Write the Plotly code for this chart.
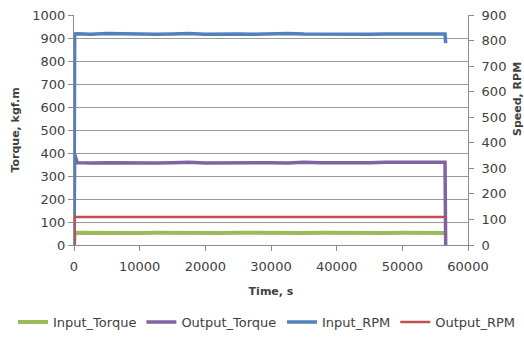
import plotly.graph_objects as go

# ---- data ----
time_s = [0, 100, 500, 2500, 5000, 7500, 10000, 12500, 15000, 17500, 20000,
          22500, 25000, 27500, 30000, 32500, 35000, 37500, 40000, 42500,
          45000, 47500, 50000, 52500, 55000, 56500, 56600]

input_torque = [0, 52, 53, 52, 53, 52, 52, 53, 52, 53, 52, 52, 53, 52, 53,
                52, 52, 53, 52, 53, 52, 52, 53, 52, 53, 52, None]
output_torque = [0, 395, 358, 356, 358, 357, 359, 356, 358, 360, 357, 358,
                 356, 359, 358, 357, 360, 358, 357, 359, 358, 360, 359, 361,
                 360, 360, 0]
input_rpm = [0, 826, 827, 825, 828, 826, 827, 825, 826, 828, 825, 827, 826,
             825, 827, 828, 826, 825, 827, 826, 825, 826, 827, 825, 826, 826,
             790]
output_rpm = [0, 110, 110, 111, 110, 110, 111, 110, 110, 110, 111, 110, 110,
              110, 111, 110, 110, 110, 111, 110, 110, 110, 111, 110, 110, 110,
              110]

x_ticks = [0, 10000, 20000, 30000, 40000, 50000, 60000]
left_ticks = [0, 100, 200, 300, 400, 500, 600, 700, 800, 900, 1000]
right_ticks = [0, 100, 200, 300, 400, 500, 600, 700, 800, 900]

GREEN = "#9bbb59"
PURPLE = "#8064a2"
BLUE = "#4f81bd"
RED = "#c0504d"
FONT = "DejaVu Sans"
TXT = "#404040"
AXC = "#8c8c8c"

fig = go.Figure()
fig.add_trace(go.Scatter(x=time_s, y=input_torque, name="Input_Torque",
                         mode="lines", line=dict(color=GREEN, width=4),
                         yaxis="y", legend="legend"))
fig.add_trace(go.Scatter(x=time_s, y=output_torque, name="Output_Torque",
                         mode="lines", line=dict(color=PURPLE, width=3.5),
                         yaxis="y", legend="legend"))
fig.add_trace(go.Scatter(x=time_s, y=input_rpm, name="Input_RPM",
                         mode="lines", line=dict(color=BLUE, width=3.5),
                         yaxis="y2", legend="legend2"))
fig.add_trace(go.Scatter(x=time_s, y=output_rpm, name="Output_RPM",
                         mode="lines", line=dict(color=RED, width=2.5),
                         yaxis="y2", legend="legend2"))

legend_common = dict(orientation="h", xref="paper", yref="paper",
                     xanchor="left", y=-0.335, yanchor="middle",
                     font=dict(family=FONT, size=13, color=TXT),
                     itemwidth=30, tracegroupgap=0,
                     bgcolor="rgba(0,0,0,0)")

fig.update_layout(
    width=524, height=348,
    margin=dict(l=74, r=56, t=15, b=103, autoexpand=False),
    paper_bgcolor="white", plot_bgcolor="white",
    font=dict(family=FONT, size=13, color=TXT),
    showlegend=True,
    legend=dict(x=-0.155, **legend_common),
    legend2=dict(x=0.528, **legend_common),
    xaxis=dict(range=[0, 60000], tickvals=x_ticks,
               ticktext=[str(v) for v in x_ticks], automargin=False,
               showgrid=False, zeroline=False, showline=True,
               linecolor=AXC, linewidth=1, ticks="outside", ticklen=5,
               tickcolor=AXC, ticklabelstandoff=4,
               title=dict(text="<b>Time, s</b>", standoff=14,
                          font=dict(family=FONT, size=11, color=TXT))),
    yaxis=dict(range=[0, 1000], tickvals=left_ticks,
               ticktext=[str(v) for v in left_ticks], automargin=False,
               showgrid=True, gridcolor="#9a9a9a", gridwidth=1,
               zeroline=False, showline=True, linecolor=AXC, linewidth=1,
               ticks="outside", ticklen=5, tickcolor=AXC,
               title=dict(text="<b>Torque, kgf.m</b>", standoff=10,
                          font=dict(family=FONT, size=11, color=TXT))),
    yaxis2=dict(range=[0, 900], tickvals=right_ticks,
                ticktext=[str(v) for v in right_ticks], automargin=False,
                overlaying="y", side="right", showgrid=False,
                zeroline=False, showline=True, linecolor=AXC, linewidth=1,
                ticks="outside", ticklen=5, tickcolor=AXC,
                ticklabelstandoff=5),
    annotations=[dict(text="<b>Speed, RPM</b>", xref="paper", yref="paper",
                      x=1.127, y=0.635, xanchor="center", yanchor="middle",
                      textangle=-90, showarrow=False,
                      font=dict(family=FONT, size=11, color=TXT))],
)

fig.write_html("out.html",
               config={"displayModeBar": False},
               post_script="document.body.style.margin='0px';"
                           "document.body.style.overflow='hidden';")
